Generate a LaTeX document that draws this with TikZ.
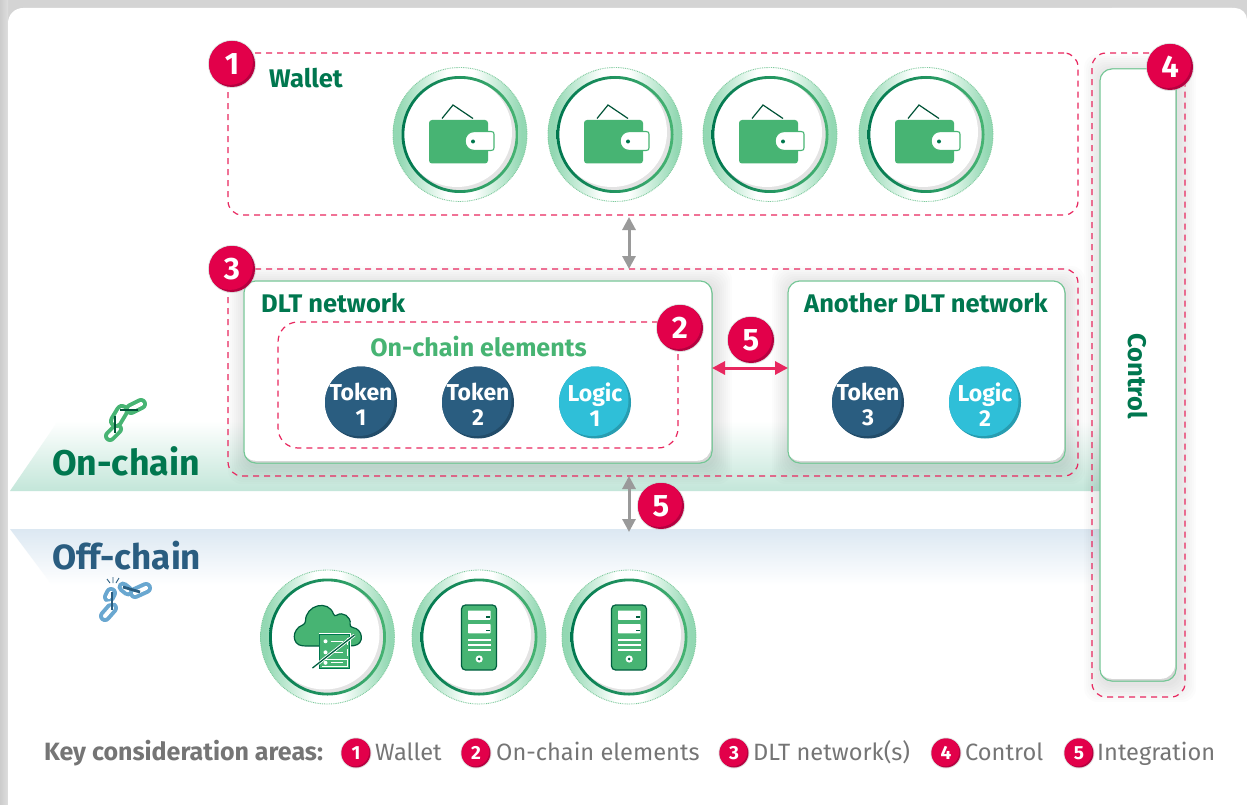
\documentclass[tikz,border=0pt]{standalone}
\usepackage{fontspec}
\setmainfont{Fira Sans}
\usetikzlibrary{arrows.meta,fit,shapes.geometric}
\definecolor{cdark}{HTML}{00774F}
\definecolor{cgreen}{HTML}{47B473}
\definecolor{cnavy}{HTML}{2A5D80}
\definecolor{ccyan}{HTML}{2FBFD8}
\definecolor{cred}{HTML}{E2004A}
\definecolor{cdred}{HTML}{B5003F}
\definecolor{cdash}{HTML}{E8275F}
\definecolor{cgrey}{HTML}{757575}
\definecolor{carrow}{HTML}{9A9A9A}
\definecolor{cring}{HTML}{93D8B3}
\definecolor{cringmid}{HTML}{CDEEDC}
\definecolor{cblue}{HTML}{69A7D0}
\definecolor{cbandg}{HTML}{C3E6D9}
\definecolor{cbandb}{HTML}{DCE8F2}
\pgfdeclarehorizontalshading{ringshade}{100bp}{color(0bp)=(cring);color(27bp)=(cring);color(37bp)=(cringmid);color(45bp)=(white);color(55bp)=(white);color(63bp)=(cringmid);color(73bp)=(cring);color(100bp)=(cring)}
\tikzset{
  dashbox/.style={draw=cdash,line width=1.2pt,dash pattern=on 6pt off 5pt,rounded corners=14pt,inner sep=0pt,outer sep=0pt},
  greenbox/.style={draw=cgreen!75,line width=1pt,fill=white,rounded corners=12pt,inner sep=0pt,outer sep=0pt},
  heading/.style={text=cdark,font=\fontsize{25.5}{28}\selectfont\bfseries,inner sep=0pt},
  legend/.style={text=cgrey,font=\fontsize{23.6}{26}\selectfont,inner sep=0pt,anchor=base west},
  tokentext/.style={text=white,align=center,inner sep=0pt,circle,minimum size=72pt,font=\fontsize{23}{25}\selectfont\bfseries},
  tipped/.style={{Triangle[length=13pt,width=13pt]}-{Triangle[length=13pt,width=13pt]},line width=3pt},
  darkbar/.style={draw=#1,line width=2.8pt},
  srvline/.style={draw=white,line width=1.2pt}
}
\newcommand{\capsule}[4]{%
  \draw[#1,line width=#4,line cap=round] #2 -- #3;
  \draw[white,line width={#4-8},line cap=round] #2 -- #3;}
\newcommand{\softshadow}[4]{%
  \foreach \g in {1,...,9}{%
    \fill[black,opacity=0.01,rounded corners=14pt]
      ({#1-\g*2+2},{#2-\g*2+3}) rectangle ({#3+\g*2+2},{#4+\g*2+3});
  }}
\newcommand{\greenpanel}[5]{%
  \softshadow{#2}{#3}{#4}{#5}
  \node[greenbox,fit={(#2,#3) (#4,#5)}] (#1) {};
  \begin{scope}
    \clip[rounded corners=12pt] (#2,#3) rectangle (#4,#5);
    \fill[black!16,rounded corners=12pt] (#2,#3) rectangle (#4,#5);
    \fill[white,rounded corners=14pt] ({#2-2},{#3-2}) rectangle ({#4-1},{#5-2.2});
  \end{scope}
  \draw[cgreen!75,line width=1pt,rounded corners=12pt] (#2,#3) rectangle (#4,#5);
}
\newcommand{\ringat}[3]{%
  \begin{scope}[shift={(#2,#3)}]
    \shade[shading=ringshade] (0,0) circle (67);
    \draw[cgreen!70,line width=0.9pt,dash pattern=on 0.9pt off 0.9pt] (0,0) circle (67);
    \fill[black!11] (0,0) circle (57);
    \begin{scope}
      \clip (0,0) circle (57);
      \fill[white] (-3,-2.5) circle (55);
    \end{scope}
    \shade[even odd rule,left color=cdark,right color=cgreen] (0,0) circle (58.5) (0,0) circle (55.7);
    \node[circle,minimum size=117pt,inner sep=0pt] (#1) at (0,0) {};
  \end{scope}}
\newcommand{\walleticon}[2]{%
  \begin{scope}[shift={(#1,#2)}]
    \draw[cdark!70!black,line width=1.2pt] (-18,-16) -- (-7,-29.5) -- (13,-16);
    \fill[cgreen,rounded corners=3pt] (-31,-14.5) rectangle (28,29);
    \draw[cgreen,fill=white,line width=1.1pt] (31,-3) -- (14.5,-3) .. controls (2,-3) and (2,16) .. (14.5,16) -- (31,16) .. controls (33.5,16) and (34,15) .. (34,13) -- (34,0) .. controls (34,-2) and (33.5,-3) .. (31,-3) -- cycle;
    \fill[cdark] (13,7) circle (2);
  \end{scope}}
\newcommand{\servericon}[2]{%
  \begin{scope}[shift={(#1,#2)}]
    \draw[cdark!80!black,fill=cgreen,line width=1.2pt,rounded corners=4pt] (-17.5,-32) rectangle (17.5,33);
    \foreach \yy in {-26.5,-13}{%
      \fill[white,rounded corners=.6pt] (-11,\yy) rectangle (11.5,{\yy+9.3});
      \fill[cdark!80!black] (6.5,{\yy+5.8}) rectangle (10.5,{\yy+7.2});
    }
    \foreach \yy in {3,8,13}{\draw[srvline] (-11,\yy) -- (11.5,\yy);}
    \fill[white] (0.2,22) circle (3.6);
    \fill[cdark!80!black] (0.2,22) circle (1.5);
  \end{scope}}
\newcommand{\badge}[6]{%
  \fill[black!25,opacity=.5] (#2,#3) circle ({#4+1});
  \fill[cdred] (#2,#3) circle (#4);
  \begin{scope}
    \clip (#2,#3) circle (#4);
    \fill[cred] ({#2-#4*0.09},{#3-#4*0.09}) circle (#4);
  \end{scope}
  \node[circle,inner sep=0pt,minimum size={2*#4},text=white,font=\fontsize{#5}{#5}\selectfont\bfseries] (#1) at (#2,#3) {#6};
}
\begin{document}
\begin{tikzpicture}[x=1pt,y=-1pt]
\useasboundingbox (0,0) rectangle (1247,805);
% page
\fill[black!17] (0,0) rectangle (1247,805);
\shade[left color=black!20,right color=black!13] (0,0) rectangle (8,805);
\fill[white,rounded corners=15pt] (8,8) rectangle (1247,860);
\fill[white,rounded corners=12pt] (1100,8) rectangle (1247,800);
\fill[white,rounded corners=8pt] (8,700) rectangle (1300,830);
\fill[white] (1100,40) rectangle (1247,790);
% bands
\shade[top color=white,bottom color=cbandg] (10,491) -- (58,421) -- (1100,421) -- (1100,491) -- cycle;
\shade[top color=cbandb,bottom color=white] (10,529) -- (52,585) -- (1100,585) -- (1100,529) -- cycle;
% titles of bands
\node[anchor=base west,inner sep=0pt,text=cdark,font=\fontsize{35.7}{38}\selectfont\bfseries] (onchain) at (52,475) {On-chain};
\node[anchor=base west,inner sep=0pt,text=cnavy,font=\fontsize{35}{38}\selectfont\bfseries] (offchain) at (52,569) {Off-chain};
% on-chain icon
\capsule{cgreen}{(131,409)}{(141,404)}{12pt}
\capsule{cgreen}{(110,436)}{(117,429)}{12pt}
\capsule{cgreen}{(116,421)}{(122,411)}{14pt}
\draw[darkbar=cdark!70!black] (120,410) -- (138,410);
\draw[darkbar=cdark!70!black] (115,416) -- (115,433);
% off-chain icon
\capsule{cblue}{(135,593)}{(146,588)}{12pt}
\capsule{cblue}{(105,616)}{(112,608)}{12pt}
\capsule{cblue}{(123,587)}{(128,591)}{11pt}
\capsule{cblue}{(109,597)}{(111,593)}{12pt}
\draw[white,line width=2pt] (105,603) -- (119,601) (118,597) -- (126,599);
\draw[darkbar=cnavy] (112,592) -- (112,610);
\draw[darkbar=cnavy] (123,587) -- (140,592);
\draw[cnavy,line width=.9pt] (113,577) -- (113,583) (107,579) -- (110,583) (119,578) -- (116,583);
% panels and rings
\node[dashbox,fit={(228,53) (1078,215)}] (walletarea) {};
\ringat{w1}{460}{134.5}
\ringat{w2}{615}{134.5}
\ringat{w3}{770}{134.5}
\ringat{w4}{926}{134.5}
\walleticon{460}{134.5}
\walleticon{615}{134.5}
\walleticon{770}{134.5}
\walleticon{926}{134.5}
\node[heading,anchor=base west] (walletlabel) at (269,87.5) {Wallet};
%
\greenpanel{dltone}{244}{281}{712}{463}
\greenpanel{dlttwo}{788}{281}{1065}{463}
\greenpanel{controlpanel}{1100}{69}{1176}{681}
\node[dashbox,fit={(228,269) (1078,476)}] (dltarea) {};
\node[dashbox,rounded corners=20pt,fit={(278,322) (678,448)}] (elements) {};
\node[dashbox,fit={(1092,53) (1185,697)}] (controlarea) {};
\node[heading,anchor=base west] (dltlabel) at (261,312.5) {DLT network};
\node[heading,anchor=base west] (anotherlabel) at (804,312.5) {Another DLT network};
\node[heading,text=cgreen,anchor=base,font=\fontsize{25.1}{28}\selectfont\bfseries] (elementslabel) at (478.5,356.5) {On-chain elements};
\node[heading,rotate=-90] (controllabel) at (1138,376) {Control};
% tokens
\newcommand{\tokenat}[6]{%
  \fill[#4!82!black] (#2,#3) circle (36);
  \begin{scope}\clip (#2,#3) circle (36); \fill[#4] ({#2-2.5},{#3-2.5}) circle (36);\end{scope}
  \node[tokentext] (#1) at (#2,{#3+2}) {#5\\#6};}
\tokenat{t1}{361}{402.5}{cnavy}{Token}{1}
\tokenat{t2}{478}{402.5}{cnavy}{Token}{2}
\tokenat{l1}{595}{402.5}{ccyan}{Logic}{1}
\tokenat{t3}{868}{402.5}{cnavy}{Token}{3}
\tokenat{l2}{985}{402.5}{ccyan}{Logic}{2}
% off-chain systems
\ringat{s1}{327.5}{637}
\ringat{s2}{479}{637}
\ringat{s3}{629}{637}
\begin{scope}[shift={(327.5,637)}]
  \draw[cdark!80!black,fill=cgreen,line width=1.2pt,rounded corners=3pt]
    (-8,9) -- (-22,9) .. controls (-36,8) and (-36,-8) .. (-22,-13)
    .. controls (-22,-32) and (1,-38) .. (7,-20)
    .. controls (15,-26) and (24,-20) .. (22,-10)
    .. controls (36,-8) and (37,7) .. (24,9) -- cycle;
  \fill[white] (-9,-4) rectangle (23,32);
  \draw[cdark,fill=cgreen,line width=1pt] (-8,-3) rectangle (22,31);
  \foreach \yy in {0.5,11.5,22}{%
    \fill[white] (-6,\yy) rectangle (20,{\yy+7.5});
    \fill[cgreen] (-5.5,{\yy+.5}) rectangle (19.5,{\yy+7});
    \fill[white] (-2,{\yy+3.8}) circle (2);
    \draw[white,line width=1pt] (3,{\yy+3.8}) -- (15,{\yy+3.8});
  }
  \draw[white,line width=3pt] (-15,31) -- (27,-2);
  \draw[cdark!80!black,line width=1.3pt] (-15,31) -- (27,-2);
\end{scope}
\servericon{479}{637}
\servericon{629}{637}
% connectors
\coordinate (wa) at (walletarea.south -| 629,0);
\coordinate (da) at (dltarea.north -| 629,0);
\coordinate (db) at (dltarea.south -| 629,0);
\coordinate (ob) at (629,532);
\draw[tipped,carrow] ([yshift=-2pt]wa) -- (da);
\draw[tipped,carrow] (db) -- (ob);
\coordinate (h) at (0,368);
\draw[tipped,cdash] (dltone.east |- h) -- (dlttwo.west |- h);
% badges
\badge{b1}{232}{64}{23}{31}{1}
\badge{b2}{680}{328}{23}{31}{2}
\badge{b3}{232}{269}{23}{31}{3}
\badge{b4}{1170}{67}{23}{31}{4}
\badge{b5}{751}{340}{23}{31}{5}
\badge{b6}{661}{506}{23}{31}{5}
% legend
\node[legend,font=\fontsize{25}{26}\selectfont\bfseries] (keyareas) at (44,760.5) {Key consideration areas:};
\badge{k1}{356}{753}{14.5}{19}{1}
\node[legend] (kt1) at (375,760.5) {Wallet};
\badge{k2}{476}{753}{14.5}{19}{2}
\node[legend] (kt2) at (496,760.5) {On-chain elements};
\badge{k3}{734}{753}{14.5}{19}{3}
\node[legend] (kt3) at (753,760.5) {DLT network(s)};
\badge{k4}{946}{753}{14.5}{19}{4}
\node[legend] (kt4) at (965,760.5) {Control};
\badge{k5}{1079}{753}{14.5}{19}{5}
\node[legend] (kt5) at (1097,760.5) {Integration};
\end{tikzpicture}
\end{document}
